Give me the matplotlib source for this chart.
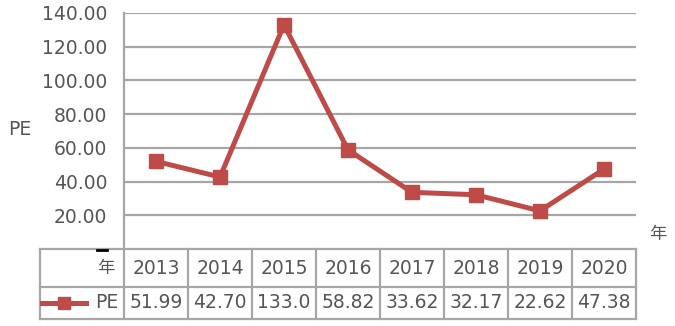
import matplotlib
matplotlib.use("Agg")
import matplotlib.pyplot as plt
from matplotlib.transforms import blended_transform_factory
from matplotlib.lines import Line2D

plt.rcParams['font.family'] = ['DejaVu Sans', 'Noto Sans CJK JP']

years = ['2013', '2014', '2015', '2016', '2017', '2018', '2019', '2020']
pe = [51.99, 42.70, 133.0, 58.82, 33.62, 32.17, 22.62, 47.38]
yticks = [20, 40, 60, 80, 100, 120, 140]
series_name = 'PE'
xlabel = '年'

W, H = 675, 326
RED = '#BE4B48'
GRID = '#A6A6A6'
TXT = '#555555'
FS = 13.5

fig = plt.figure(figsize=(W / 100, H / 100), dpi=100)
ax = fig.add_axes([124 / W, 1 - 249 / H, 512 / W, 236 / H])

x = list(range(len(years)))
ax.plot(x, pe, color=RED, lw=3.6, marker='s', markersize=10.5,
        markerfacecolor=RED, markeredgecolor=RED, zorder=3, clip_on=False)

ax.set_xlim(-0.5, len(years) - 0.5)
ax.set_ylim(0, 140)
ax.set_yticks(yticks)
ax.set_yticklabels([f'{v:.2f}' for v in yticks], fontsize=FS, color=TXT)
ax.tick_params(axis='y', length=0, pad=12)
ax.set_xticks([])
for s in ['top', 'right', 'bottom']:
    ax.spines[s].set_visible(False)
ax.spines['left'].set_color(GRID)
ax.spines['left'].set_linewidth(1.6)
for v in yticks:
    ax.axhline(v, color=GRID, lw=1.6, zorder=1)

# axis titles
fig.text(8 / W, 1 - 130 / H, series_name, fontsize=FS, color=TXT, va='center', ha='left')
fig.text(658 / W, 1 - 234 / H, xlabel, fontsize=FS - 1, color=TXT, va='center', ha='center')

# small dash near zero
fig.add_artist(Line2D([97 / W, 107 / W], [1 - 250 / H, 1 - 250 / H], color='black', lw=2))

# data table
tr = blended_transform_factory(ax.transData, ax.transAxes)
def ya(p):
    return (249 - p) / 236
y_top, y_mid, y_bot = ya(249), ya(287), ya(319)
x_left = -0.5 - 84 / 64
x_right = len(years) - 0.5
kw = dict(color=GRID, lw=1.6, transform=tr, clip_on=False, zorder=2)
for yy in (y_top, y_mid, y_bot):
    ax.plot([x_left, x_right], [yy, yy], **kw)
for xx in [x_left] + [i - 0.5 for i in range(len(years) + 1)]:
    ax.plot([xx, xx], [y_bot, y_top], **kw)

y_h = (y_top + y_mid) / 2
y_v = (y_mid + y_bot) / 2

def fmt(v):
    return f'{v:.1f}' if v >= 100 else f'{v:.2f}'

for i, (yr, v) in enumerate(zip(years, pe)):
    ax.text(i, y_h, yr, transform=tr, ha='center', va='center', fontsize=FS, color=TXT)
    ax.text(i, y_v, fmt(v), transform=tr, ha='center', va='center', fontsize=FS, color=TXT)

ax.text(-0.5 - 9 / 64, y_h, xlabel, transform=tr, ha='right', va='center', fontsize=FS - 1, color=TXT)
ax.text(-0.5 - 6 / 64, y_v, series_name, transform=tr, ha='right', va='center', fontsize=FS, color=TXT)
lx0 = -0.5 - 82 / 64
lx1 = -0.5 - 38 / 64
ax.plot([lx0, lx1], [y_v, y_v], color=RED, lw=3.6, transform=tr, clip_on=False)
ax.plot([(lx0 + lx1) / 2], [y_v], color=RED, marker='s', markersize=9, transform=tr, clip_on=False)

fig.savefig('out.png', dpi=100)
